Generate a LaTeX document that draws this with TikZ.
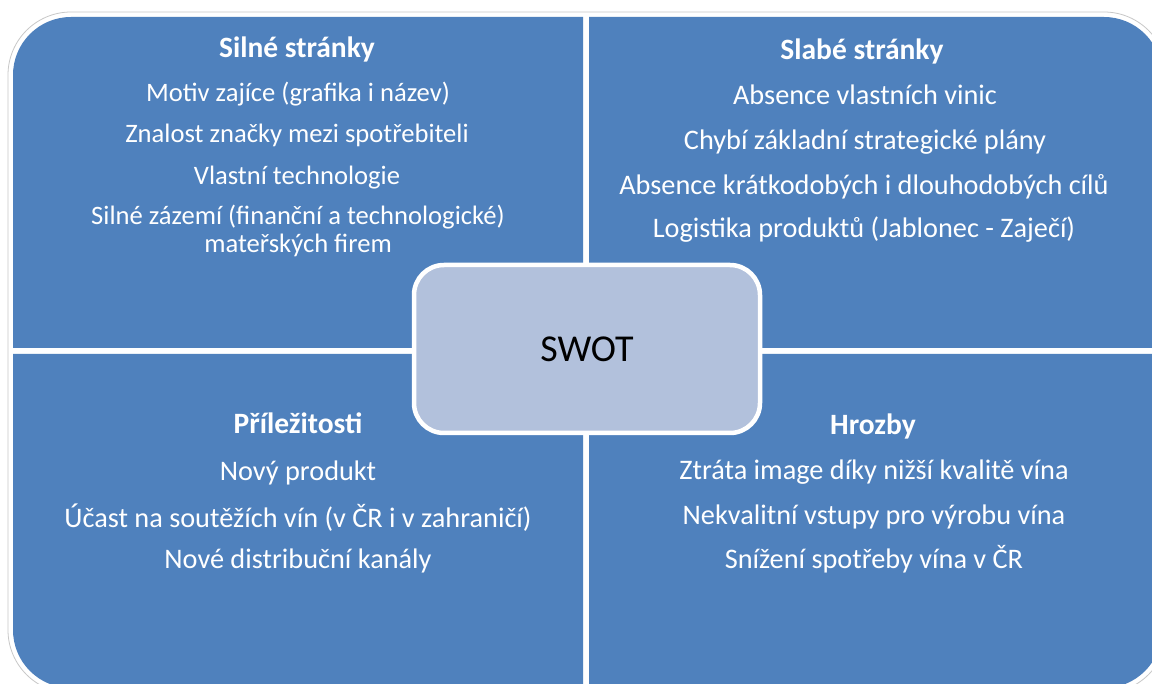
\documentclass[tikz,border=0pt]{standalone}
\usepackage{fontspec}
\setmainfont{Carlito}
\definecolor{qblue}{HTML}{4F81BD}
\definecolor{cblue}{HTML}{B2C1DC}
\definecolor{rimgray}{HTML}{C8C8C8}
\begin{document}
\begin{tikzpicture}[x=1pt,y=-1pt,
  titlet/.style={font=\fontsize{29.5}{32}\selectfont\bfseries, text=white, anchor=base, inner sep=0pt},
  itemt/.style={font=\fontsize{28.3}{31}\selectfont, text=white, anchor=base, inner sep=0pt},
  itemtl/.style={font=\fontsize{26.6}{29}\selectfont, text=white, anchor=base, inner sep=0pt}]
\useasboundingbox (0,0) rectangle (1152,684);
\clip (0,0) rectangle (1152,684);
\fill[white] (0,0) rectangle (1152,684);
% outer rim
\draw[rimgray, line width=0.8pt, rounded corners=63pt] (8,12) rectangle (1167,693);
% quadrants
\fill[qblue] (13,348) [rounded corners=58pt] -- (13,17) [sharp corners] -- (583,17) -- (583,348) -- cycle;
\fill[qblue] (589,17) [rounded corners=58pt] -- (1162,17) [sharp corners] -- (1162,348) -- (589,348) -- cycle;
\fill[qblue] (13,354) -- (583,354) -- (583,688) [rounded corners=58pt] -- (13,688) [sharp corners] -- cycle;
\fill[qblue] (589,354) -- (1162,354) [rounded corners=58pt] -- (1162,688) [sharp corners] -- (589,688) -- cycle;
% centre box
\node[draw=white, line width=4.5pt, fill=cblue, rounded corners=30pt,
  minimum width=346pt, minimum height=168pt, inner sep=0pt,
  font=\fontsize{38}{40}\selectfont, text=black] (swot) at (587,349) {SWOT};
% Silné stránky
\node[titlet] (s0) at (297,58) {Silné stránky};
\node[itemtl] (s1) at (298,102) {Motiv zajíce (grafika i název)};
\node[itemtl] (s2) at (297,143) {Znalost značky mezi spotřebiteli};
\node[itemtl] (s3) at (297,185) {Vlastní technologie};
\node[itemtl] (s4) at (298,225) {Silné zázemí (finanční a technologické)};
\node[itemtl] (s5) at (298,253) {mateřských firem};
% Slabé stránky
\node[titlet] (w0) at (862,60) {Slabé stránky};
\node[itemt] (w1) at (865,105) {Absence vlastních vinic};
\node[itemt] (w2) at (865,150) {Chybí základní strategické plány};
\node[itemt] (w3) at (864,195) {Absence krátkodobých i dlouhodobých cílů};
\node[itemt] (w4) at (864,238) {Logistika produktů (Jablonec - Zaječí)};
% Příležitosti
\node[titlet] (o0) at (298,434) {Příležitosti};
\node[itemt] (o1) at (298,481) {Nový produkt};
\node[itemt] (o2) at (298,527) {Účast na soutěžích vín (v ČR i v zahraničí)};
\node[itemt] (o3) at (298,568) {Nové distribuční kanály};
% Hrozby
\node[titlet] (t0) at (873,435) {Hrozby};
\node[itemt] (t1) at (874,480) {Ztráta image díky nižší kvalitě vína};
\node[itemt] (t2) at (874,525) {Nekvalitní vstupy pro výrobu vína};
\node[itemt] (t3) at (874,568) {Snížení spotřeby vína v ČR};
\end{tikzpicture}
\end{document}
